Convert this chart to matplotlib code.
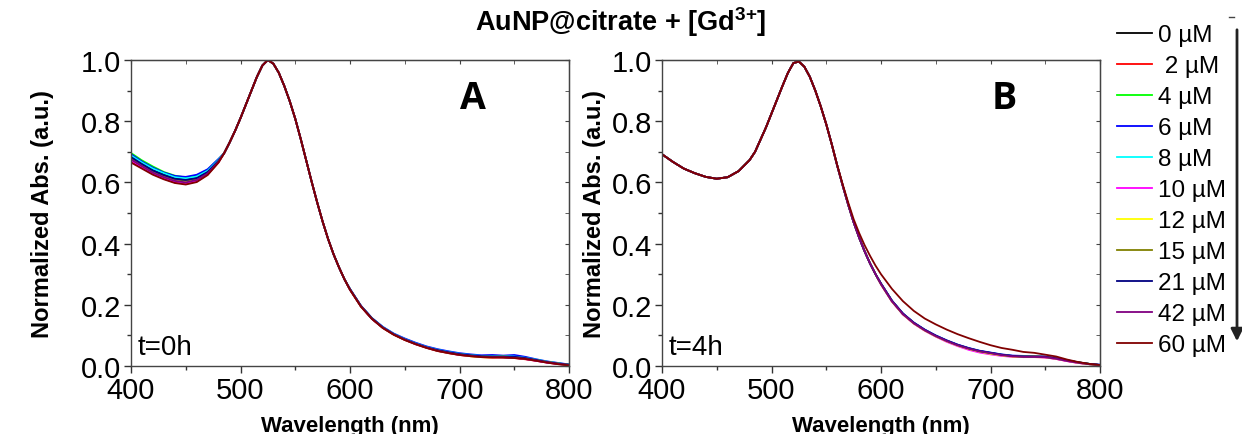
import numpy as np
import matplotlib
matplotlib.use("Agg")
import matplotlib.pyplot as plt
from matplotlib.ticker import MultipleLocator

plt.rcParams['font.family'] = ['Liberation Sans', 'DejaVu Sans']
plt.rcParams['mathtext.fontset'] = 'custom'
plt.rcParams['mathtext.rm'] = 'Liberation Sans'
plt.rcParams['mathtext.bf'] = 'Liberation Sans:bold'

# wavelength grid (nm): coarse on the shoulders, finer across the plasmon peak
wl_dip = np.arange(400, 481, 10)
wl_mid = np.arange(485, 596, 5)
wl_tail = np.arange(600, 801, 10)

conc_labels = ['0 µM', ' 2 µM', '4 µM', '6 µM', '8 µM', '10 µM',
               '12 µM', '15 µM', '21 µM', '42 µM', '60 µM']
colors = ['#000000', '#ff0000', '#00ff00', '#0000ff', '#00ffff', '#ff00ff',
          '#ffff00', '#808000', '#000080', '#800080', '#800000']

# ---- panel A, t = 0 h ----
dip_a = [
    [0.685, 0.662, 0.640, 0.627, 0.614, 0.610, 0.615, 0.635, 0.672],
    [0.668, 0.648, 0.628, 0.612, 0.600, 0.596, 0.603, 0.626, 0.666],
    [0.696, 0.672, 0.652, 0.634, 0.622, 0.616, 0.621, 0.641, 0.676],
    [0.692, 0.668, 0.648, 0.632, 0.621, 0.618, 0.625, 0.643, 0.677],
    [0.688, 0.665, 0.645, 0.630, 0.617, 0.613, 0.619, 0.638, 0.674],
    [0.672, 0.651, 0.630, 0.615, 0.603, 0.598, 0.606, 0.628, 0.667],
    [0.678, 0.656, 0.636, 0.620, 0.608, 0.604, 0.610, 0.631, 0.669],
    [0.680, 0.658, 0.637, 0.622, 0.610, 0.606, 0.612, 0.633, 0.670],
    [0.683, 0.660, 0.639, 0.624, 0.612, 0.608, 0.614, 0.634, 0.671],
    [0.675, 0.653, 0.632, 0.617, 0.605, 0.600, 0.608, 0.629, 0.668],
    [0.665, 0.645, 0.625, 0.610, 0.598, 0.593, 0.601, 0.624, 0.665],
]
mid_a = [0.695, 0.730, 0.768, 0.810, 0.855, 0.900, 0.945, 0.982, 1.000,
         0.988, 0.958, 0.915, 0.865, 0.808, 0.742, 0.672, 0.602, 0.535,
         0.472, 0.415, 0.365, 0.322, 0.283]
tail_a = [
    [0.250, 0.196, 0.155, 0.126, 0.104, 0.087, 0.072, 0.061, 0.050, 0.044, 0.037, 0.034, 0.031, 0.030, 0.028, 0.027, 0.023, 0.018, 0.012, 0.008, 0.004],
    [0.249, 0.194, 0.154, 0.124, 0.102, 0.085, 0.071, 0.059, 0.049, 0.042, 0.036, 0.032, 0.029, 0.027, 0.028, 0.026, 0.022, 0.017, 0.011, 0.006, 0.003],
    [0.251, 0.196, 0.156, 0.126, 0.104, 0.088, 0.074, 0.062, 0.052, 0.045, 0.039, 0.036, 0.032, 0.031, 0.032, 0.029, 0.026, 0.020, 0.014, 0.009, 0.004],
    [0.252, 0.197, 0.157, 0.128, 0.106, 0.090, 0.076, 0.064, 0.055, 0.048, 0.042, 0.038, 0.035, 0.036, 0.034, 0.036, 0.030, 0.022, 0.015, 0.010, 0.005],
    [0.251, 0.196, 0.156, 0.127, 0.105, 0.088, 0.074, 0.062, 0.053, 0.046, 0.040, 0.036, 0.033, 0.032, 0.033, 0.031, 0.027, 0.021, 0.014, 0.009, 0.004],
    [0.249, 0.195, 0.154, 0.125, 0.103, 0.086, 0.071, 0.060, 0.050, 0.043, 0.036, 0.033, 0.030, 0.028, 0.029, 0.027, 0.023, 0.017, 0.011, 0.007, 0.003],
    [0.250, 0.195, 0.155, 0.125, 0.103, 0.086, 0.072, 0.060, 0.050, 0.043, 0.037, 0.032, 0.029, 0.028, 0.030, 0.028, 0.024, 0.019, 0.013, 0.008, 0.003],
    [0.250, 0.195, 0.155, 0.125, 0.103, 0.086, 0.072, 0.060, 0.051, 0.044, 0.038, 0.034, 0.031, 0.030, 0.031, 0.029, 0.025, 0.019, 0.013, 0.008, 0.004],
    [0.251, 0.196, 0.156, 0.126, 0.104, 0.087, 0.073, 0.061, 0.052, 0.045, 0.039, 0.035, 0.032, 0.031, 0.031, 0.030, 0.026, 0.020, 0.013, 0.008, 0.004],
    [0.250, 0.195, 0.154, 0.125, 0.103, 0.086, 0.072, 0.060, 0.050, 0.043, 0.037, 0.033, 0.030, 0.029, 0.029, 0.027, 0.024, 0.018, 0.012, 0.007, 0.003],
    [0.249, 0.194, 0.154, 0.124, 0.102, 0.085, 0.071, 0.059, 0.049, 0.042, 0.036, 0.032, 0.029, 0.028, 0.028, 0.026, 0.023, 0.017, 0.011, 0.006, 0.002],
]

# ---- panel B, t = 4 h ----
dip_b = [0.692, 0.667, 0.645, 0.630, 0.618, 0.612, 0.617, 0.637, 0.673]
mid_b = [0.700, 0.740, 0.780, 0.825, 0.870, 0.915, 0.958, 0.990, 0.995,
         0.978, 0.945, 0.900, 0.848, 0.790, 0.725, 0.655, 0.590, 0.528,
         0.470, 0.420, 0.375, 0.335, 0.300]
mid_b_60 = [0.700, 0.740, 0.780, 0.825, 0.870, 0.915, 0.958, 0.990, 0.995,
            0.978, 0.945, 0.900, 0.848, 0.790, 0.725, 0.657, 0.594, 0.535,
            0.480, 0.435, 0.395, 0.360, 0.328]
tail_b = [
    [0.268, 0.212, 0.170, 0.140, 0.117, 0.098, 0.082, 0.068, 0.057, 0.048, 0.042, 0.036, 0.032, 0.030, 0.030, 0.029, 0.024, 0.017, 0.011, 0.006, 0.003],
    [0.267, 0.211, 0.169, 0.139, 0.116, 0.097, 0.081, 0.067, 0.056, 0.047, 0.041, 0.035, 0.031, 0.029, 0.029, 0.028, 0.023, 0.016, 0.010, 0.006, 0.003],
    [0.269, 0.213, 0.171, 0.141, 0.118, 0.099, 0.083, 0.069, 0.058, 0.049, 0.043, 0.037, 0.033, 0.031, 0.031, 0.030, 0.025, 0.018, 0.012, 0.007, 0.003],
    [0.270, 0.214, 0.172, 0.142, 0.119, 0.100, 0.084, 0.070, 0.059, 0.050, 0.044, 0.038, 0.034, 0.033, 0.032, 0.031, 0.026, 0.019, 0.012, 0.007, 0.004],
    [0.268, 0.212, 0.170, 0.140, 0.117, 0.098, 0.082, 0.068, 0.057, 0.048, 0.041, 0.036, 0.032, 0.031, 0.030, 0.029, 0.024, 0.017, 0.011, 0.006, 0.003],
    [0.266, 0.210, 0.168, 0.138, 0.115, 0.096, 0.079, 0.065, 0.053, 0.044, 0.038, 0.033, 0.030, 0.029, 0.030, 0.028, 0.023, 0.016, 0.010, 0.006, 0.003],
    [0.267, 0.211, 0.169, 0.139, 0.116, 0.097, 0.081, 0.067, 0.056, 0.047, 0.040, 0.035, 0.031, 0.030, 0.031, 0.029, 0.024, 0.018, 0.011, 0.006, 0.003],
    [0.268, 0.212, 0.170, 0.140, 0.117, 0.098, 0.082, 0.068, 0.057, 0.048, 0.042, 0.036, 0.032, 0.031, 0.031, 0.030, 0.025, 0.018, 0.012, 0.007, 0.003],
    [0.269, 0.213, 0.171, 0.141, 0.118, 0.099, 0.083, 0.069, 0.058, 0.049, 0.043, 0.037, 0.033, 0.031, 0.031, 0.030, 0.025, 0.018, 0.012, 0.007, 0.004],
    [0.268, 0.212, 0.170, 0.140, 0.117, 0.098, 0.082, 0.068, 0.057, 0.048, 0.042, 0.036, 0.032, 0.030, 0.030, 0.029, 0.024, 0.017, 0.011, 0.006, 0.003],
    [0.300, 0.252, 0.212, 0.180, 0.155, 0.136, 0.119, 0.104, 0.091, 0.079, 0.068, 0.059, 0.053, 0.046, 0.043, 0.037, 0.031, 0.021, 0.013, 0.007, 0.003],
]

wl = np.concatenate([wl_dip, wl_mid, wl_tail])

fig = plt.figure(figsize=(12.42, 4.35), dpi=100)
W, H = 1242.0, 435.0
ax_a = fig.add_axes([131 / W, 1 - 367 / H, 438 / W, 306 / H])
ax_b = fig.add_axes([662 / W, 1 - 367 / H, 438 / W, 306 / H])

lines = []
for i in range(len(conc_labels)):
    ya = np.concatenate([dip_a[i], mid_a, tail_a[i]])
    ln, = ax_a.plot(wl, ya, color=colors[i], lw=1.3, label=conc_labels[i])
    lines.append(ln)
    mb = mid_b_60 if i == len(conc_labels) - 1 else mid_b
    yb = np.concatenate([dip_b, mb, tail_b[i]])
    ax_b.plot(wl, yb, color=colors[i], lw=1.3)

for ax, letter, tlab, ylab_x in [(ax_a, 'A', 't=0h', -0.176), (ax_b, 'B', 't=4h', -0.128)]:
    ax.set_xlim(400, 800)
    ax.set_ylim(0, 1.0)
    ax.xaxis.set_major_locator(MultipleLocator(100))
    ax.xaxis.set_minor_locator(MultipleLocator(50))
    ax.yaxis.set_major_locator(MultipleLocator(0.2))
    ax.yaxis.set_minor_locator(MultipleLocator(0.1))
    ax.tick_params(which='major', direction='out', length=5, width=1,
                   labelsize=21, colors='#333333', labelcolor='black', pad=2)
    ax.tick_params(which='minor', direction='out', length=3, width=1, colors='#333333')
    ax.yaxis.set_major_formatter(matplotlib.ticker.FormatStrFormatter('%.1f'))
    for s in ax.spines.values():
        s.set_color('#444444')
        s.set_linewidth(1.0)
    # inward ticks on the top and right frame
    top = ax.secondary_xaxis('top')
    top.xaxis.set_major_locator(MultipleLocator(100))
    top.xaxis.set_minor_locator(MultipleLocator(50))
    top.tick_params(which='both', direction='in', length=3, labeltop=False, colors='#444444')
    right = ax.secondary_yaxis('right')
    right.yaxis.set_major_locator(MultipleLocator(0.2))
    right.yaxis.set_minor_locator(MultipleLocator(0.1))
    right.tick_params(which='both', direction='in', length=3, labelright=False, colors='#444444')
    ax.set_xlabel('Wavelength (nm)', fontsize=16, fontweight='bold', labelpad=8)
    ax.set_ylabel('Normalized Abs. (a.u.)', fontsize=17, fontweight='bold')
    ax.yaxis.set_label_coords(ylab_x, 0.5)
    ax.text(0.81, 0.876, letter, transform=ax.transAxes, family=['Open Sans', 'DejaVu Sans'],
            fontsize=27, fontweight='bold', ha='right', va='center')
    ax.text(0.015, 0.02, tlab, transform=ax.transAxes, fontsize=20, ha='left', va='bottom')

fig.text(621 / W, 1 - 22 / H, r'AuNP@citrate + [Gd$^{\mathbf{3{+}}}$]',
         fontsize=19.5, fontweight='bold', ha='center', va='center')

fig.legend(handles=lines, loc='upper left', bbox_to_anchor=(1117 / W, 1 - 25 / H),
           frameon=False, fontsize=17.5, handlelength=1.44, handletextpad=0.25,
           labelspacing=0.37, borderaxespad=0, borderpad=0)

# arrow for increasing concentration
fig.add_artist(matplotlib.patches.FancyArrowPatch(
    (1237 / W, 1 - 28 / H), (1237 / W, 1 - 345 / H), transform=fig.transFigure,
    arrowstyle='-|>', mutation_scale=18, lw=2, color='#222222'))
fig.add_artist(matplotlib.lines.Line2D([1229 / W, 1234 / W], [1 - 18 / H, 1 - 18 / H],
                                       transform=fig.transFigure, color='#444444', lw=1))

fig.savefig('out.png', dpi=100, facecolor='white')
